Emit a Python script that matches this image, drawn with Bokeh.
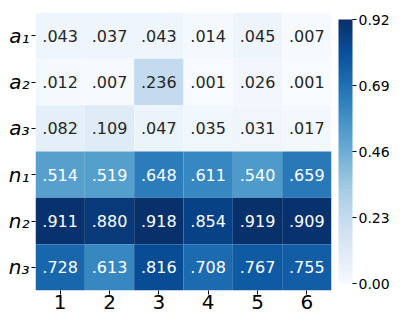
import numpy as np
from bokeh.plotting import figure
from bokeh.models import (ColumnDataSource, LinearColorMapper, ColorBar,
                          FixedTicker, PrintfTickFormatter)
from bokeh.palettes import Blues9, interp_palette
from bokeh.transform import transform
from bokeh.core.properties import value
from bokeh.embed import file_html
from bokeh.resources import INLINE

rows = ["a₁", "a₂", "a₃", "n₁", "n₂", "n₃"]
cols = ["1", "2", "3", "4", "5", "6"]
a1 = [0.043, 0.037, 0.043, 0.014, 0.045, 0.007]
a2 = [0.012, 0.007, 0.236, 0.001, 0.026, 0.001]
a3 = [0.082, 0.109, 0.047, 0.035, 0.031, 0.017]
n1 = [0.514, 0.519, 0.648, 0.611, 0.540, 0.659]
n2 = [0.911, 0.880, 0.918, 0.854, 0.919, 0.909]
n3 = [0.728, 0.613, 0.816, 0.708, 0.767, 0.755]
series = [a1, a2, a3, n1, n2, n3]

palette = interp_palette(list(Blues9[::-1]), 256)
vmin = 0.0
vmax = max(max(s) for s in series)

def lum(hexc):
    rgb = [int(hexc[i:i + 2], 16) / 255 for i in (1, 3, 5)]
    rgb = [c / 12.92 if c <= 0.03928 else ((c + 0.055) / 1.055) ** 2.4 for c in rgb]
    return 0.2126 * rgb[0] + 0.7152 * rgb[1] + 0.0722 * rgb[2]

xs, ys, vals, labels, tcolors = [], [], [], [], []
for r, s in zip(rows, series):
    for c, v in zip(cols, s):
        xs.append(c)
        ys.append(r)
        vals.append(v)
        labels.append(f"{v:.3f}"[1:])
        idx = min(255, int((v - vmin) / (vmax - vmin) * 255))
        tcolors.append("#262626" if lum(palette[idx]) > 0.408 else "white")

src = ColumnDataSource(dict(x=xs, y=ys, v=vals, label=labels, tc=tcolors))
mapper = LinearColorMapper(palette=palette, low=vmin, high=vmax)

p = figure(x_range=cols, y_range=rows[::-1], width=399, height=316,
           output_backend="svg", toolbar_location=None,
           min_border_top=12, min_border_left=35, min_border_right=64, min_border_bottom=26)
p.rect(x="x", y="y", width=1, height=1, source=src,
       fill_color=transform("v", mapper), line_color=None)
p.text(x="x", y="y", text="label", source=src, text_color="tc",
       text_align="center", text_baseline="middle",
       text_font=value("DejaVu Sans"), text_font_size="16px")

p.outline_line_color = None
p.grid.visible = False
for ax in (p.xaxis, p.yaxis):
    ax.axis_line_color = None
    ax.major_tick_line_color = "black"
    ax.major_tick_in = 0
    ax.major_tick_out = 4
    ax.minor_tick_line_color = None
    ax.major_label_text_font = "DejaVu Sans"
    ax.major_label_text_color = "black"
p.xaxis.major_label_text_font_size = "20px"
p.xaxis.major_label_standoff = 0
p.yaxis.major_label_text_font_size = "20px"
p.yaxis.major_label_text_font_style = "italic"
p.yaxis.major_label_standoff = 2

ticks = list(np.linspace(vmin, vmax, 5))
cb = ColorBar(color_mapper=mapper, ticker=FixedTicker(ticks=ticks),
              formatter=PrintfTickFormatter(format="%.2f"),
              width=14, padding=7, margin=0,
              major_tick_in=0, major_tick_out=4, major_tick_line_color="black",
              major_label_text_font="DejaVu Sans", major_label_text_font_size="14px",
              major_label_text_color="black", label_standoff=2,
              bar_line_color=None, border_line_color=None,
              background_fill_color=None)
p.add_layout(cb, "right")

open("out.html", "w").write(file_html(p, INLINE))
